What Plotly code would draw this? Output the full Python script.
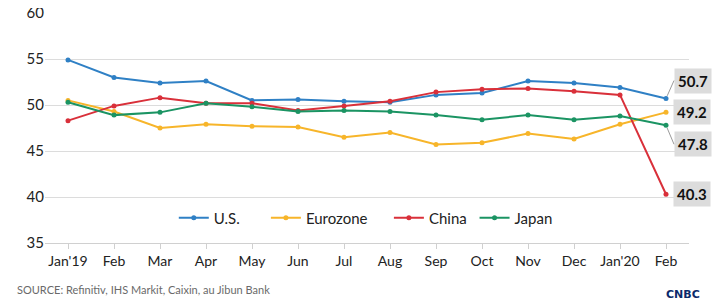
import plotly.graph_objects as go

months = ["Jan'19", "Feb", "Mar", "Apr", "May", "Jun", "Jul", "Aug", "Sep", "Oct", "Nov", "Dec", "Jan'20", "Feb"]
us = [54.9, 53.0, 52.4, 52.6, 50.5, 50.6, 50.4, 50.3, 51.1, 51.3, 52.6, 52.4, 51.9, 50.7]
eurozone = [50.5, 49.3, 47.5, 47.9, 47.7, 47.6, 46.5, 47.0, 45.7, 45.9, 46.9, 46.3, 47.9, 49.2]
china = [48.3, 49.9, 50.8, 50.2, 50.2, 49.4, 49.9, 50.4, 51.4, 51.7, 51.8, 51.5, 51.1, 40.3]
japan = [50.3, 48.9, 49.2, 50.2, 49.8, 49.3, 49.4, 49.3, 48.9, 48.4, 48.9, 48.4, 48.8, 47.8]

series = [("U.S.", us, "#2f80c5"), ("Eurozone", eurozone, "#f7b52a"),
          ("China", china, "#d9303a"), ("Japan", japan, "#1b9463")]
legend_ids = ["legend", "legend2", "legend3", "legend4"]
legend_x = [0.200, 0.343, 0.534, 0.667]

x = list(range(len(months)))
FONT = "Lato, 'Open Sans', sans-serif"

fig = go.Figure()
for (name, vals, col), lid in zip(series, legend_ids):
    fig.add_trace(go.Scatter(x=x, y=vals, name=name, mode="lines+markers",
                             line=dict(color=col, width=2),
                             marker=dict(color=col, size=5), legend=lid))

# end labels: (series values, pixel y-shift of the label)
end_labels = [(us, -18), (eurozone, 0), (japan, 19), (china, 0)]
for vals, dy in end_labels:
    fig.add_annotation(x=x[-1], y=vals[-1], text="<b>%.1f</b>" % vals[-1],
                       showarrow=dy != 0, ax=8, ay=dy, arrowhead=0, arrowwidth=1,
                       arrowcolor="#9a9a9a", standoff=3,
                       xanchor="left", xshift=0 if dy else 7,
                       bgcolor="#dcdcdc", borderpad=3,
                       font=dict(size=15, color="#111", family=FONT))

fig.add_annotation(xref="paper", yref="paper", x=-0.047, y=-0.204, xanchor="left", yanchor="middle",
                   text="SOURCE: Refinitiv, IHS Markit, Caixin, au Jibun Bank", showarrow=False,
                   font=dict(size=11, color="#6a6a6a", family=FONT))
fig.add_annotation(xref="paper", yref="paper", x=0.99, y=-0.222, xanchor="center", yanchor="middle",
                   text="<b>CNBC</b>", showarrow=False,
                   font=dict(size=11, color="#0b2a6b", family="DejaVu Sans"))

legend_common = dict(orientation="h", y=0.109, yanchor="middle", xanchor="left",
                     bgcolor="rgba(0,0,0,0)", font=dict(size=15, color="#222"), itemwidth=30)
legends = {lid: dict(legend_common, x=lx) for lid, lx in zip(legend_ids, legend_x)}

# page has an 8px body margin, so the figure is sized to fit the 720x306 window
fig.update_layout(
    width=712, height=298,
    margin=dict(l=37, r=31, t=5, b=63, autoexpand=False),
    paper_bgcolor="white", plot_bgcolor="white",
    font=dict(family=FONT, color="#333", size=14),
    showlegend=True,
    **legends,
    xaxis=dict(tickmode="array", tickvals=x, ticktext=months, range=[-0.5, len(months) - 0.5],
               showgrid=False, zeroline=False, showline=True, linecolor="#d0d0d0",
               ticks="outside", tickson="boundaries", ticklen=5, tickcolor="#d0d0d0",
               tickfont=dict(size=14, color="#222"), automargin=False),
    yaxis=dict(range=[35, 60], tickmode="array", tickvals=[35, 40, 45, 50, 55, 60],
               showgrid=True, gridcolor="#dcdcdc", zeroline=False,
               showline=False, tickfont=dict(size=15, color="#222"), ticksuffix="  ",
               ticklabeloverflow="allow", automargin=False),
)

fig.write_html("out.html")
